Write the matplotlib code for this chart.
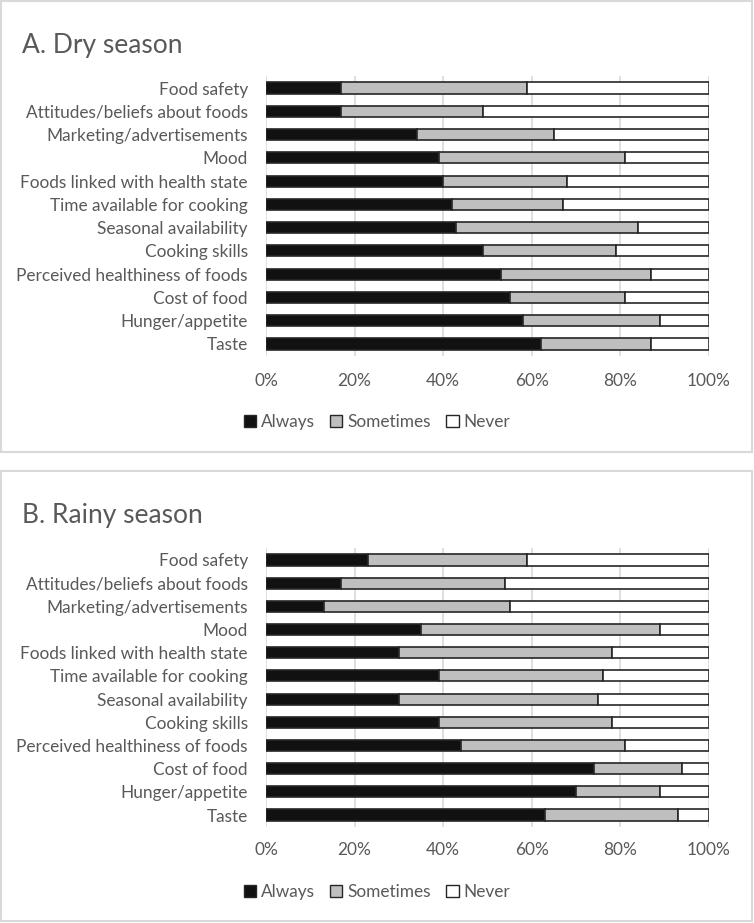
import matplotlib.pyplot as plt
from matplotlib.patches import Patch, Rectangle

# Factors (top to bottom as shown)
FACTORS = [
    "Food safety",
    "Attitudes/beliefs about foods",
    "Marketing/advertisements",
    "Mood",
    "Foods linked with health state",
    "Time available for cooking",
    "Seasonal availability",
    "Cooking skills",
    "Perceived healthiness of foods",
    "Cost of food",
    "Hunger/appetite",
    "Taste",
]

# percentages, same order as FACTORS
dry_always = [17, 17, 34, 39, 40, 42, 43, 49, 53, 55, 58, 62]
dry_sometimes = [42, 32, 31, 42, 28, 25, 41, 30, 34, 26, 31, 25]
dry_never = [41, 51, 35, 19, 32, 33, 16, 21, 13, 19, 11, 13]

rainy_always = [23, 17, 13, 35, 30, 39, 30, 39, 44, 74, 70, 63]
rainy_sometimes = [36, 37, 42, 54, 48, 37, 45, 39, 37, 20, 19, 30]
rainy_never = [41, 46, 45, 11, 22, 24, 25, 22, 19, 6, 11, 7]

XTICKS = [0, 20, 40, 60, 80, 100]
XTICKLABELS = ["0%", "20%", "40%", "60%", "80%", "100%"]

W, H = 754, 923
TEXT = "#595959"
GRID = "#d9d9d9"
EDGE = "#262626"
COLORS = ["#111111", "#bfbfbf", "#ffffff"]
NAMES = ["Always", "Sometimes", "Never"]
FS = 12.4

plt.rcParams["font.family"] = ["Lato", "DejaVu Sans"]

fig = plt.figure(figsize=(W / 100, H / 100), dpi=100)


def px_box(left, top, right, bottom):
    """pixel box -> figure fraction rect"""
    return [left / W, 1 - bottom / H, (right - left) / W, (bottom - top) / H]


def draw_panel(title, always, sometimes, never, top, ax_top, ax_bottom, tick_y, legend_y, bottom):
    # chart border
    fig.patches.append(Rectangle((1 / W, 1 - bottom / H), (W - 3) / W, (bottom - top) / H,
                                 transform=fig.transFigure, fill=False,
                                 edgecolor=GRID, lw=1.5, zorder=0))
    fig.text(22 / W, 1 - (top + 44) / H, title, fontsize=19, color=TEXT, va="center")

    ax = fig.add_axes(px_box(266, ax_top, 709, ax_bottom))
    y = list(range(len(FACTORS)))
    left = [0] * len(FACTORS)
    for vals, col in zip([always, sometimes, never], COLORS):
        ax.barh(y, vals, left=left, height=0.48, color=col, edgecolor=EDGE, lw=1.2, zorder=3)
        left = [a + b for a, b in zip(left, vals)]

    ax.set_xlim(0, 100)
    ax.set_ylim(len(FACTORS) - 0.5, -0.5)
    ax.set_yticks(y)
    ax.set_yticklabels(FACTORS, fontsize=FS, color=TEXT)
    ax.set_xticks(XTICKS)
    ax.set_xticklabels(XTICKLABELS, fontsize=FS, color=TEXT)
    ax.tick_params(length=0)
    ax.tick_params(axis="y", pad=13)
    ax.tick_params(axis="x", pad=(tick_y - ax_bottom) - 10)
    ax.grid(axis="x", color=GRID, lw=1.2, zorder=0)
    for s in ax.spines.values():
        s.set_visible(False)

    handles = [Patch(facecolor=c, edgecolor=EDGE, lw=1) for c in COLORS]
    fig.legend(handles, NAMES, loc="center", bbox_to_anchor=(0.5, 1 - legend_y / H),
               ncol=3, frameon=False, fontsize=FS, labelcolor=TEXT,
               handlelength=0.7, handleheight=0.7, handletextpad=0.3, columnspacing=0.9)


draw_panel("A. Dry season", dry_always, dry_sometimes, dry_never,
           top=1, ax_top=76.4, ax_bottom=355.6, tick_y=378, legend_y=422, bottom=452)
draw_panel("B. Rainy season", rainy_always, rainy_sometimes, rainy_never,
           top=471, ax_top=548.4, ax_bottom=826.6, tick_y=848, legend_y=892, bottom=921)

fig.savefig("out.png", dpi=100)
